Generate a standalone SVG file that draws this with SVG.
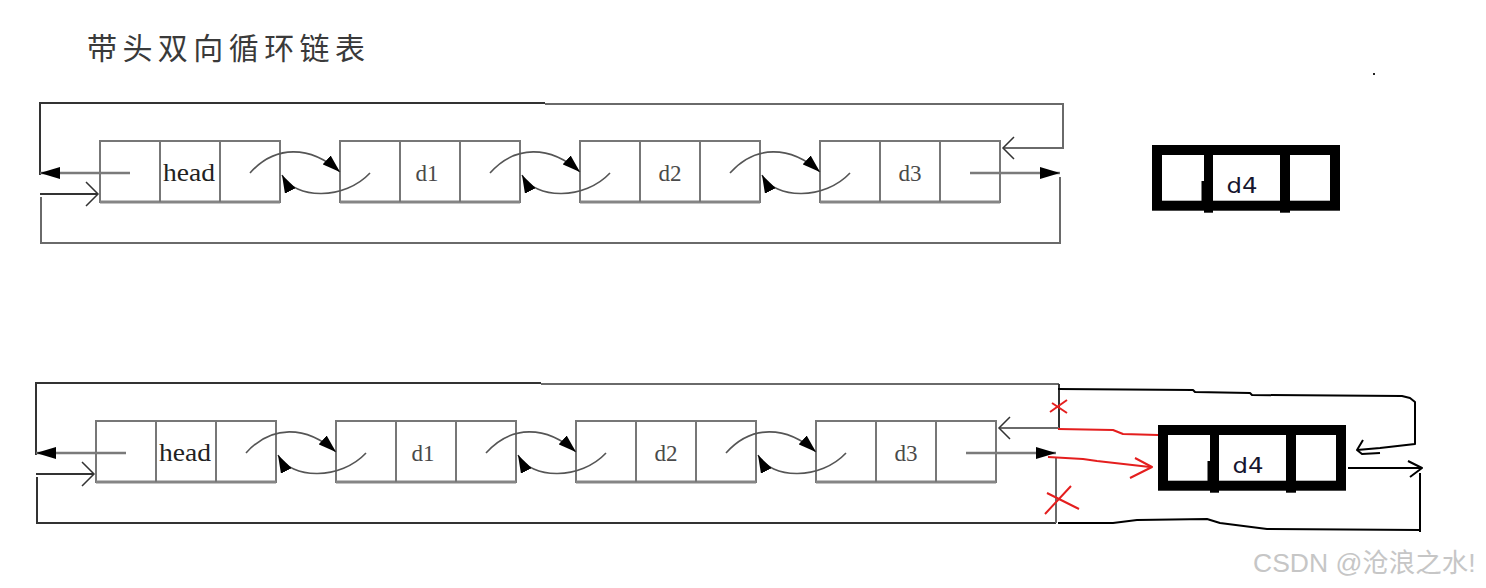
<svg xmlns="http://www.w3.org/2000/svg" width="1486" height="588" viewBox="0 0 1486 588">
<style>
.box{fill:none;stroke:#777;stroke-width:2}
.bot{stroke:#858585;stroke-width:3}
.loop{fill:none;stroke:#333;stroke-width:2}
.loopl{fill:none;stroke:#6a6a6a;stroke-width:2}
.gl{fill:none;stroke:#7a7a7a;stroke-width:2.5}
.chev{fill:none;stroke:#333;stroke-width:1.5}
.curve{fill:none;stroke:#555;stroke-width:1.6}
.ser{font-family:"Liberation Serif","DejaVu Serif",serif;text-anchor:middle}
.dt{font-size:23px;fill:#4a4a4a}
.ht{font-size:26px;fill:#222}
.d4t{font-family:"DejaVu Sans","Liberation Sans",sans-serif;font-size:22px;fill:#15152e;text-anchor:middle}
.hand{fill:none;stroke:#000;stroke-width:2;stroke-linejoin:round}
.red{fill:none;stroke:#e41e1e;stroke-width:2;stroke-linejoin:round}
</style>
<defs>
<marker id="big" markerUnits="userSpaceOnUse" markerWidth="20" markerHeight="12" refX="20" refY="6" orient="auto">
<path d="M0,0 L20,6 L0,12 z" fill="#000"/>
</marker>
<marker id="sm" markerUnits="userSpaceOnUse" markerWidth="18" markerHeight="12" refX="18" refY="6" orient="auto">
<path d="M0,0 L18,6 L0,12 z" fill="#000"/>
</marker>
</defs>
<rect width="1486" height="588" fill="#fff"/>
<text x="87" y="59" font-family="'Noto Sans CJK SC','Noto Sans',sans-serif" font-size="30" fill="#3a3a3a" textLength="278" lengthAdjust="spacing">带头双向循环链表</text>
<rect x="1373" y="73" width="2" height="2" fill="#222"/>

<!-- top row nodes -->
<g id="head1"><rect class="box" x="100" y="141" width="180" height="61"/><line class="bot" x1="100" y1="202" x2="280" y2="202"/><line class="box" x1="160" y1="141" x2="160" y2="202"/><line class="box" x1="220" y1="141" x2="220" y2="202"/><text class="ser ht" x="189" y="181" textLength="52" lengthAdjust="spacingAndGlyphs">head</text></g>
<g id="d1a"><rect class="box" x="340" y="141" width="180" height="61"/><line class="bot" x1="340" y1="202" x2="520" y2="202"/><line class="box" x1="400" y1="141" x2="400" y2="202"/><line class="box" x1="460" y1="141" x2="460" y2="202"/><text class="ser dt" x="427" y="181">d1</text></g>
<g id="d2a"><rect class="box" x="580" y="141" width="180" height="61"/><line class="bot" x1="580" y1="202" x2="760" y2="202"/><line class="box" x1="640" y1="141" x2="640" y2="202"/><line class="box" x1="700" y1="141" x2="700" y2="202"/><text class="ser dt" x="670" y="181">d2</text></g>
<g id="d3a"><rect class="box" x="820" y="141" width="180" height="61"/><line class="bot" x1="820" y1="202" x2="1000" y2="202"/><line class="box" x1="880" y1="141" x2="880" y2="202"/><line class="box" x1="940" y1="141" x2="940" y2="202"/><text class="ser dt" x="910" y="181">d3</text></g>
<g id="d4a"><rect x="1157" y="150" width="178" height="55.7" fill="none" stroke="#000" stroke-width="10"/><rect x="1204" y="150" width="9" height="62.7" fill="#000"/><rect x="1201.5" y="181" width="3" height="25" fill="#000"/><rect x="1280" y="150" width="10" height="62.7" fill="#000"/><text class="d4t" x="1242" y="192.5" textLength="31" lengthAdjust="spacingAndGlyphs">d4</text></g>

<!-- top row connectors -->
<g id="connectors1">
<path class="loop" d="M40,175 V103 H545"/>
<path class="loopl" d="M545,104 H1063 V148 H1004"/>
<path class="chev" d="M1014,137 L1003,148 L1014,159"/>
<line class="gl" x1="130" y1="173" x2="40" y2="173" marker-end="url(#big)"/>
<path class="loop" d="M40,194 H97"/>
<path class="chev" d="M86,182 L98,194 L86,206"/>
<path class="loopl" d="M41,197 V243 H1060 V177"/>
<line class="gl" x1="970" y1="173" x2="1060" y2="173" marker-end="url(#big)"/>
<path class="curve" d="M250,173 C275,145 310,145 340,172" marker-end="url(#sm)"/>
<path class="curve" d="M370,173 C345,200 295,200 282,175" marker-end="url(#sm)"/>
<path class="curve" d="M490,173 C515,145 550,145 580,172" marker-end="url(#sm)"/>
<path class="curve" d="M610,173 C585,200 535,200 522,175" marker-end="url(#sm)"/>
<path class="curve" d="M730,173 C755,145 790,145 820,172" marker-end="url(#sm)"/>
<path class="curve" d="M850,173 C825,200 775,200 762,175" marker-end="url(#sm)"/>
</g>

<!-- bottom row nodes -->
<g id="head2" transform="translate(-4,280)"><rect class="box" x="100" y="141" width="180" height="61"/><line class="bot" x1="100" y1="202" x2="280" y2="202"/><line class="box" x1="160" y1="141" x2="160" y2="202"/><line class="box" x1="220" y1="141" x2="220" y2="202"/><text class="ser ht" x="189" y="181" textLength="52" lengthAdjust="spacingAndGlyphs">head</text></g>
<g id="d1b" transform="translate(-4,280)"><rect class="box" x="340" y="141" width="180" height="61"/><line class="bot" x1="340" y1="202" x2="520" y2="202"/><line class="box" x1="400" y1="141" x2="400" y2="202"/><line class="box" x1="460" y1="141" x2="460" y2="202"/><text class="ser dt" x="427" y="181">d1</text></g>
<g id="d2b" transform="translate(-4,280)"><rect class="box" x="580" y="141" width="180" height="61"/><line class="bot" x1="580" y1="202" x2="760" y2="202"/><line class="box" x1="640" y1="141" x2="640" y2="202"/><line class="box" x1="700" y1="141" x2="700" y2="202"/><text class="ser dt" x="670" y="181">d2</text></g>
<g id="d3b" transform="translate(-4,280)"><rect class="box" x="820" y="141" width="180" height="61"/><line class="bot" x1="820" y1="202" x2="1000" y2="202"/><line class="box" x1="880" y1="141" x2="880" y2="202"/><line class="box" x1="940" y1="141" x2="940" y2="202"/><text class="ser dt" x="910" y="181">d3</text></g>
<g id="d4b" transform="translate(6,280)"><rect x="1157" y="150" width="178" height="55.7" fill="none" stroke="#000" stroke-width="10"/><rect x="1204" y="150" width="9" height="62.7" fill="#000"/><rect x="1201.5" y="181" width="3" height="25" fill="#000"/><rect x="1280" y="150" width="10" height="62.7" fill="#000"/><text class="d4t" x="1242" y="192.5" textLength="31" lengthAdjust="spacingAndGlyphs">d4</text></g>

<!-- bottom row connectors -->
<g id="connectors2">
<g transform="translate(-4,280)">
<path class="loop" d="M40,175 V103 H545"/>
<path class="loopl" d="M545,104 H1063"/>
<path class="loop" d="M1063,104 V148"/>
<path class="loopl" d="M1063,148 H1004"/>
<path class="chev" d="M1014,137 L1003,148 L1014,159"/>
<line class="gl" x1="130" y1="173" x2="40" y2="173" marker-end="url(#big)"/>
<path class="loop" d="M40,194 H97"/>
<path class="chev" d="M86,182 L98,194 L86,206"/>
<path class="loop" d="M41,197 V243 H1060"/>
<path class="loopl" d="M1060,243 V177"/>
<line class="gl" x1="970" y1="173" x2="1060" y2="173" marker-end="url(#big)"/>
<path class="curve" d="M250,173 C275,145 310,145 340,172" marker-end="url(#sm)"/>
<path class="curve" d="M370,173 C345,200 295,200 282,175" marker-end="url(#sm)"/>
<path class="curve" d="M490,173 C515,145 550,145 580,172" marker-end="url(#sm)"/>
<path class="curve" d="M610,173 C585,200 535,200 522,175" marker-end="url(#sm)"/>
<path class="curve" d="M730,173 C755,145 790,145 820,172" marker-end="url(#sm)"/>
<path class="curve" d="M850,173 C825,200 775,200 762,175" marker-end="url(#sm)"/>
</g>
<path class="hand" d="M1058,389 L1193,390 L1195,392 L1250,393 L1252,395 L1402,396 L1410,398 L1415,402 L1415,444 L1380,448 L1357,450"/>
<path class="hand" d="M1363,440 L1357,450 L1362,454 L1380,453"/>
<path class="hand" d="M1348,468 H1421"/>
<path class="hand" d="M1408,461 L1422,468 L1410,477"/>
<path class="hand" d="M1420,473 V532"/>
<path class="hand" d="M1420,530 L1267,529 L1220,523 L1207,519 L1137,520 L1113,523 L1058,523"/>
<path class="red" d="M1050,412 L1067,400 M1052,403 L1067,413"/>
<path class="red" d="M1058,429 L1113,430 L1123,434 L1158,435"/>
<path class="red" d="M1048,457 L1083,459 L1097,461 L1150,467"/>
<path class="red" d="M1135,458 L1152,467 L1130,478"/>
<path class="red" d="M1045,514 L1071,486 M1047,493 L1079,509"/>
</g>

<text x="1253" y="572" font-family="'Liberation Sans','Noto Sans CJK SC',sans-serif" font-size="26.5" fill="#c6c6c6">CSDN @沧浪之水!</text>
</svg>
